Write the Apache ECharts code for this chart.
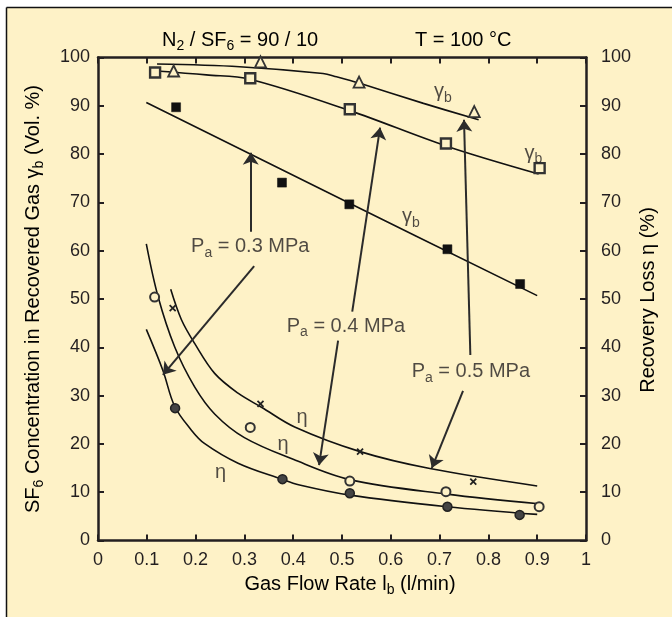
<!DOCTYPE html>
<html><head><meta charset="utf-8">
<script src="https://cdn.jsdelivr.net/npm/echarts@6/dist/echarts.min.js"></script>
<style>html,body{margin:0;padding:0;background:#fff}#c{width:672px;height:617px}</style>
</head><body><div id="c"></div><script>
// ---- data ----
// gamma_b markers (left axis)
const g05X = [0.155, 0.333, 0.535, 0.771];
const g05Y = [97.2, 99.1, 94.9, 88.8];
const g04X = [0.117, 0.312, 0.516, 0.713, 0.905];
const g04Y = [96.9, 95.7, 89.3, 82.2, 77.1];
const g03X = [0.160, 0.377, 0.515, 0.716, 0.865];
const g03Y = [89.7, 74.1, 69.6, 60.3, 53.1];
// eta markers (right axis)
const e05X = [0.153, 0.333, 0.537, 0.769];
const e05Y = [48.1, 28.3, 18.4, 12.2];
const e04X = [0.116, 0.312, 0.516, 0.713, 0.904];
const e04Y = [50.4, 23.4, 12.3, 10.1, 7.0];
const e03X = [0.158, 0.378, 0.516, 0.716, 0.864];
const e03Y = [27.4, 12.7, 9.8, 7.0, 5.3];
// fitted curves as drawn in the reference
const cg05X = [0.121, 0.290, 0.461, 0.489, 0.535, 0.667, 0.780];
const cg05Y = [98.65, 98.1, 96.7, 96.0, 94.7, 90.5, 87.1];
const cg04X = [0.120, 0.222, 0.311, 0.516, 0.713, 0.903];
const cg04Y = [97.2, 96.4, 95.5, 89.0, 81.7, 75.9];
const cg03X = [0.099, 0.500, 0.900];
const cg03Y = [90.7, 70.6, 50.7];
const ce05X = [0.149, 0.171, 0.198, 0.239, 0.287, 0.335, 0.403, 0.537, 0.680, 0.900];
const ce05Y = [52.0, 45.7, 40.8, 34.6, 30.5, 27.6, 23.5, 18.4, 14.9, 11.3];
const ce04X = [0.099, 0.123, 0.157, 0.198, 0.239, 0.300, 0.400, 0.516, 0.715, 0.903];
const ce04Y = [61.4, 50.5, 40.1, 31.8, 26.2, 21.3, 16.8, 12.6, 9.6, 7.6];
const ce03X = [0.099, 0.133, 0.157, 0.191, 0.218, 0.287, 0.376, 0.413, 0.516, 0.715, 0.900];
const ce03Y = [43.7, 35.2, 27.8, 22.9, 20.1, 16.0, 12.7, 11.5, 9.4, 7.0, 5.4];
// axis ticks
const xMin = 0, xMax = 1, xStep = 0.1;
const yMin = 0, yMax = 100, yStep = 10;
// annotation arrows in data units
const arrowFrom = [[0.313, 63.9], [0.320, 56.8], [0.521, 47.4], [0.492, 41.4], [0.763, 38.4], [0.748, 31.0]];
const arrowTo   = [[0.313, 80.3], [0.133, 34.3], [0.578, 85.5], [0.453, 15.6], [0.750, 87.1], [0.684, 15.0]];
// in-plot labels (centre position)
const labelX = [0.312, 0.508, 0.764, 0.707, 0.892, 0.641, 0.418, 0.379, 0.251];
const labelY = [60.8, 44.4, 34.9, 92.9, 80.2, 67.0, 25.4, 19.8, 14.0];
const labelText = ['{n|P}{s|a}{n| = 0.3 MPa}', '{n|P}{s|a}{n| = 0.4 MPa}', '{n|P}{s|a}{n| = 0.5 MPa}',
  '{g|γ}{s|b}', '{g|γ}{s|b}', '{g|γ}{s|b}', '{g|η}', '{g|η}', '{g|η}'];

const INK = '#231f20';
const BG = '#fef2c7';
const FONT = '"Liberation Sans", Arial, Helvetica, sans-serif';
const zip = (xs, ys) => xs.map((x, i) => [x, ys[i]]);

const rich = {
  n: {fontSize: 20, fontFamily: FONT, color: INK, lineHeight: 26, verticalAlign: 'middle'},
  g: {fontSize: 20, fontFamily: FONT, color: INK, lineHeight: 26, verticalAlign: 'middle'},
  s: {fontSize: 14, fontFamily: FONT, color: INK, lineHeight: 26, verticalAlign: 'bottom'}
};

function curve(xs, ys, yIdx) {
  return {type: 'line', yAxisIndex: yIdx, data: zip(xs, ys), smooth: 0.35, symbol: 'none',
    lineStyle: {color: '#111', width: 1.6}, z: 3, silent: true};
}
function marks(xs, ys, yIdx, sym, size, fill, border, bw) {
  return {type: 'scatter', yAxisIndex: yIdx, data: zip(xs, ys), symbol: sym, symbolSize: size,
    itemStyle: {color: fill, borderColor: border, borderWidth: bw, opacity: 1}, z: 5, silent: true};
}

const chart = echarts.init(document.getElementById('c'), null, {renderer: 'canvas'});
const axisCommon = {
  axisLine: {show: true, onZero: false, lineStyle: {color: INK, width: 2.5}},
  axisTick: {show: true, inside: true, length: 6, lineStyle: {color: INK, width: 2}},
  splitLine: {show: false}
};
const labelStyle = {color: INK, fontSize: 18, fontFamily: FONT};

chart.setOption({
  animation: false,
  backgroundColor: '#ffffff',
  grid: {left: 98, right: 86, top: 57.5, bottom: 76.5, containLabel: false},
  xAxis: [
    Object.assign({}, axisCommon, {type: 'value', position: 'bottom', min: xMin, max: xMax, interval: xStep,
      axisLabel: Object.assign({}, labelStyle, {margin: 11})}),
    Object.assign({}, axisCommon, {type: 'value', position: 'top', min: xMin, max: xMax, interval: xStep,
      axisLabel: {show: false}})
  ],
  yAxis: [
    Object.assign({}, axisCommon, {type: 'value', position: 'left', min: yMin, max: yMax, interval: yStep,
      axisLabel: Object.assign({}, labelStyle, {margin: 8})}),
    Object.assign({}, axisCommon, {type: 'value', position: 'right', min: yMin, max: yMax, interval: yStep,
      axisLabel: Object.assign({}, labelStyle, {margin: 15})})
  ],
  graphic: [
    {type: 'rect', z: -100, shape: {x: 7, y: 8, width: 700, height: 650}, style: {fill: BG}},
    {type: 'line', z: -99, shape: {x1: 6.5, y1: 7.5, x2: 6.5, y2: 617}, style: {stroke: '#111', lineWidth: 1.5}},
    {type: 'line', z: -99, shape: {x1: 6.5, y1: 7.5, x2: 672, y2: 7.5}, style: {stroke: '#111', lineWidth: 1.5}},
    {type: 'text', z: 100, x: 162, y: 40, style: {text: '{n|N}{s|2}{n| / SF}{s|6}{n| = 90 / 10}', rich: rich, verticalAlign: 'middle', align: 'left'}},
    {type: 'text', z: 100, x: 415, y: 40, style: {text: '{n|T = 100 °C}', rich: rich, verticalAlign: 'middle', align: 'left'}},
    {type: 'text', z: 100, x: 350, y: 584, style: {text: '{n|Gas Flow Rate l}{s|b}{n| (l/min)}', rich: rich, verticalAlign: 'middle', align: 'center'}},
    {type: 'text', z: 100, x: 33, y: 299, rotation: Math.PI / 2,
      style: {text: '{n|SF}{s|6}{n| Concentration in Recovered Gas γ}{s|b}{n| (Vol. %)}', rich: rich, verticalAlign: 'middle', align: 'center'}},
    {type: 'text', z: 100, x: 648, y: 300, rotation: Math.PI / 2,
      style: {text: '{n|Recovery Loss η (%)}', rich: rich, verticalAlign: 'middle', align: 'center'}}
  ],
  series: [
    curve(cg05X, cg05Y, 0), curve(cg04X, cg04Y, 0), curve(cg03X, cg03Y, 0),
    curve(ce05X, ce05Y, 1), curve(ce04X, ce04Y, 1), curve(ce03X, ce03Y, 1),
    marks(g05X, g05Y, 0, 'triangle', 11, BG, '#333', 1.8),
    marks(g04X, g04Y, 0, 'rect', 10, BG, '#333', 2.4),
    marks(g03X, g03Y, 0, 'rect', 9, '#111', '#111', 0.5),
    marks(e05X, e05Y, 1, 'path://M0,0L10,10M10,0L0,10', 6, 'none', '#222', 1.8),
    marks(e04X, e04Y, 1, 'circle', 9, BG, '#333', 2),
    marks(e03X, e03Y, 1, 'circle', 9, '#444', '#222', 1.5),
    {type: 'line', yAxisIndex: 0, data: [], silent: true, z: 4, symbol: 'none',
      markLine: {silent: true, symbol: ['none', 'arrow'], symbolSize: 12, animation: false, precision: 3,
        label: {show: false}, itemStyle: {color: '#2b2b2b'},
        lineStyle: {color: '#2b2b2b', width: 2, type: 'solid'},
        emphasis: {disabled: true},
        data: arrowFrom.map((p, i) => [{coord: p}, {coord: arrowTo[i]}])}},
    {type: 'scatter', yAxisIndex: 0, symbolSize: 0, silent: true, z: 6,
      data: labelX.map((x, i) => ({value: [x, labelY[i]], label: {formatter: labelText[i]}})),
      label: {show: true, position: 'inside', rich: rich}}
  ]
});
</script></body></html>
